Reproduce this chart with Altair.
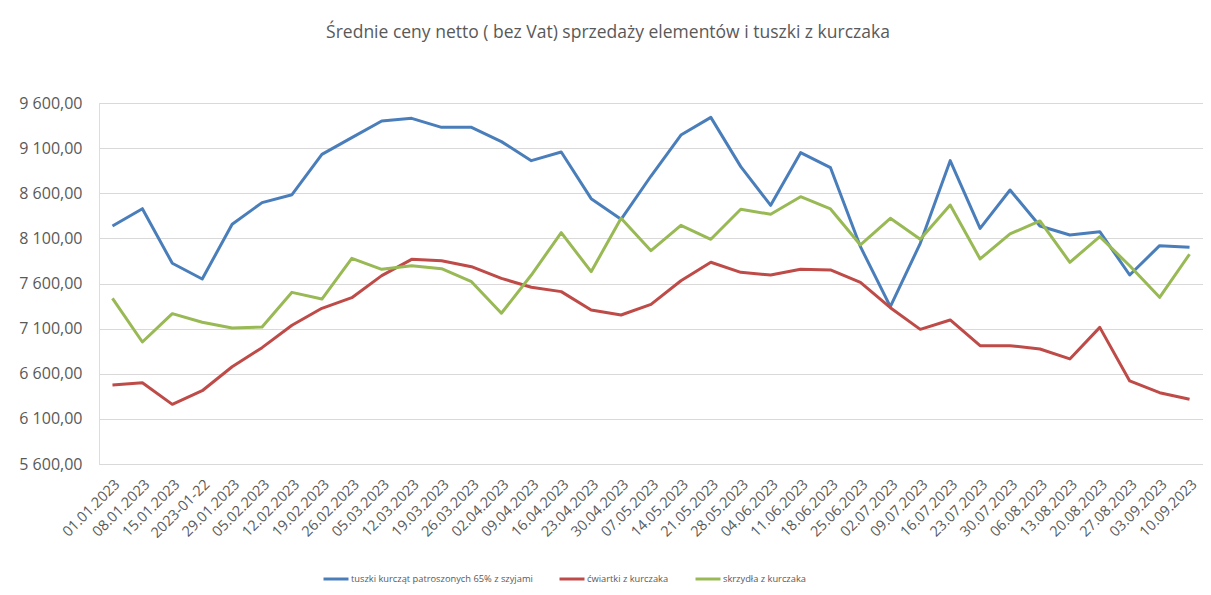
import altair as alt
import pandas as pd

dates = ["01.01.2023", "08.01.2023", "15.01.2023", "2023-01-22", "29.01.2023", "05.02.2023",
         "12.02.2023", "19.02.2023", "26.02.2023", "05.03.2023", "12.03.2023", "19.03.2023",
         "26.03.2023", "02.04.2023", "09.04.2023", "16.04.2023", "23.04.2023", "30.04.2023",
         "07.05.2023", "14.05.2023", "21.05.2023", "28.05.2023", "04.06.2023", "11.06.2023",
         "18.06.2023", "25.06.2023", "02.07.2023", "09.07.2023", "16.07.2023", "23.07.2023",
         "30.07.2023", "06.08.2023", "13.08.2023", "20.08.2023", "27.08.2023", "03.09.2023",
         "10.09.2023"]

tuszki = [8237, 8429, 7824, 7650, 8256, 8496, 8584, 9031, 9216, 9401, 9430, 9330,
          9330, 9172, 8961, 9057, 8540, 8311, 8791, 9245, 9441, 8895, 8466, 9050,
          8883, 8008, 7343, 8045, 8961, 8211, 8636, 8237, 8137, 8174, 7694, 8019, 8001]

cwiartki = [6475, 6501, 6261, 6412, 6678, 6889, 7137, 7325, 7443, 7687, 7868, 7853,
            7786, 7657, 7558, 7510, 7306, 7251, 7369, 7631, 7835, 7724, 7694, 7757,
            7750, 7613, 7332, 7092, 7196, 6911, 6911, 6874, 6764, 7114, 6520, 6390, 6317]

skrzydla = [7436, 6952, 7266, 7170, 7107, 7118, 7502, 7428, 7879, 7757, 7797, 7764,
            7620, 7270, 7694, 8163, 7731, 8322, 7964, 8245, 8090, 8422, 8367, 8562,
            8426, 8027, 8322, 8090, 8470, 7872, 8149, 8293, 7835, 8119, 7797, 7447, 7924]

series_names = ["tuszki kurcząt patroszonych 65% z szyjami",
                "ćwiartki z kurczaka",
                "skrzydła z kurczaka"]
series_colors = ["#4A7EBB", "#BE4B48", "#98B954"]
y_ticks = [5600, 6100, 6600, 7100, 7600, 8100, 8600, 9100, 9600]

rows = []
for name, vals in zip(series_names, [tuszki, cwiartki, skrzydla]):
    for d, v in zip(dates, vals):
        rows.append({"data": d, "cena": v, "seria": name})
df = pd.DataFrame(rows)

FONT = "Open Sans"

chart = alt.Chart(df).mark_line(strokeWidth=3, strokeJoin="round").encode(
    x=alt.X("data:O", sort=dates, title=None,
            scale=alt.Scale(padding=0.45),
            axis=alt.Axis(labelAngle=-45, labelFontSize=14.5, labelColor="#595959",
                          labelFont=FONT, ticks=False, domain=True, domainColor="#d9d9d9",
                          labelPadding=13, grid=False, labelLimit=0)),
    y=alt.Y("cena:Q", title=None,
            scale=alt.Scale(domain=[5600, 9600], nice=False, zero=False),
            axis=alt.Axis(values=y_ticks, labelFontSize=16, labelColor="#595959",
                          labelFont=FONT, ticks=False, domain=False, gridColor="#d9d9d9",
                          gridWidth=1, labelPadding=17,
                          labelExpr="replace(replace(format(datum.value, ',.2f'), ',', ' '), '.', ',')")),
    color=alt.Color("seria:N", sort=series_names,
                    scale=alt.Scale(domain=series_names, range=series_colors),
                    legend=alt.Legend(title=None, orient="none", direction="horizontal",
                                      legendX=223, legendY=462, symbolType="stroke",
                                      symbolStrokeWidth=3, symbolSize=625,
                                      labelFontSize=9.3, labelFont=FONT, labelColor="#595959",
                                      labelOffset=1, columnPadding=20, labelLimit=0))
).properties(
    width=1104, height=361,
    title=alt.TitleParams("Średnie ceny netto ( bez Vat) sprzedaży elementów i tuszki z kurczaka",
                          anchor="middle", dx=-43, fontSize=17.5, font=FONT,
                          fontWeight="normal", color="#595959", offset=54),
    autosize=alt.AutoSizeParams(type="none"),
    padding={"left": 91, "top": 95, "right": 0, "bottom": 131}
).configure_view(stroke=None).configure(background="white")

chart.save("out.html", embed_options={"renderer": "svg", "actions": False})
